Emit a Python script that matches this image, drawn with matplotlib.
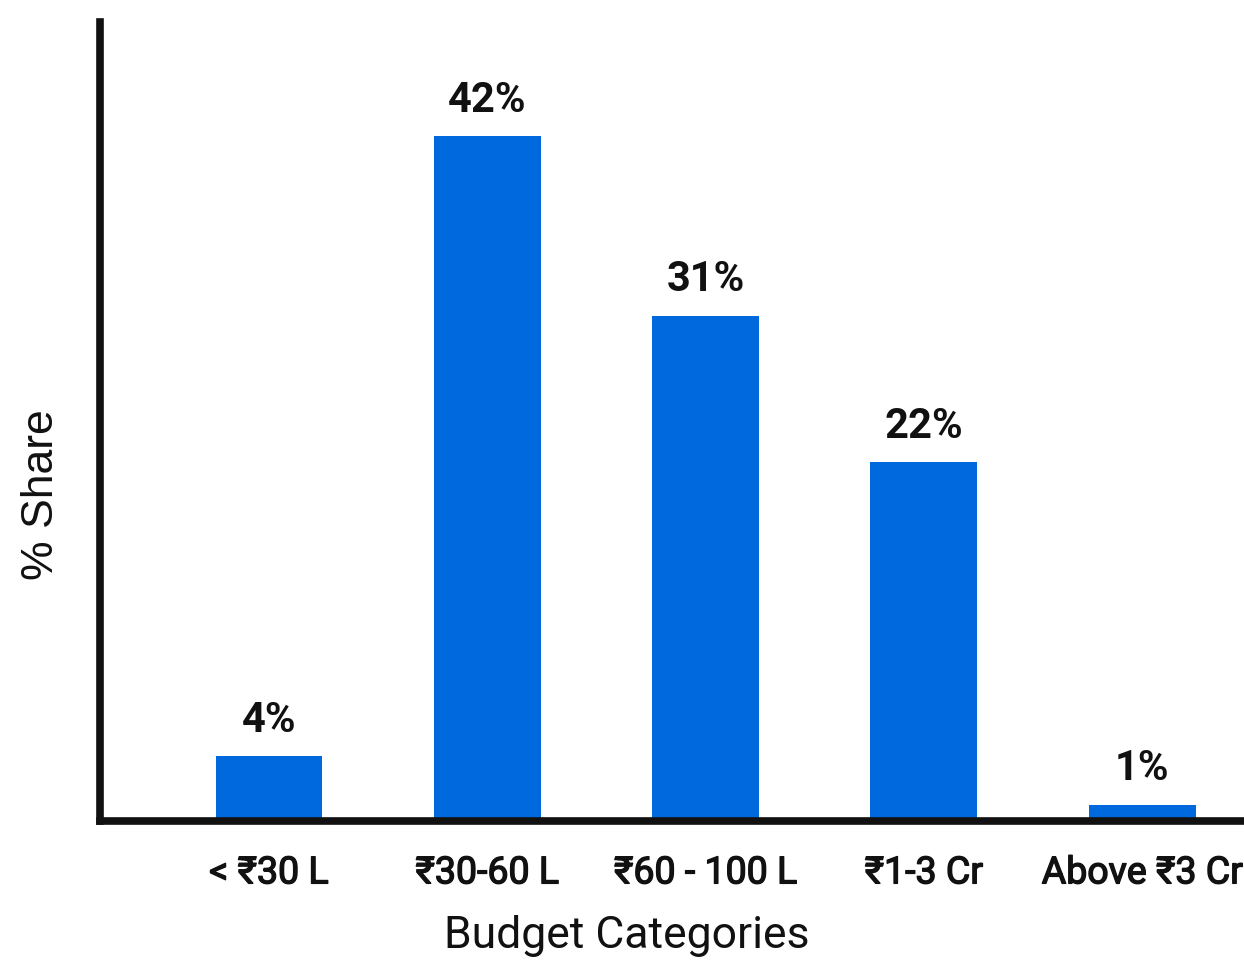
import matplotlib
matplotlib.use("Agg")
import matplotlib.pyplot as plt
import matplotlib.patheffects as pe
import numpy as np

categories = ["< ₹30 L", "₹30-60 L", "₹60 - 100 L", "₹1-3 Cr", "Above ₹3 Cr"]
shares = [4, 42, 31, 22, 1]
share_labels = ["4%", "42%", "31%", "22%", "1%"]

BAR_COLOR = "#0069de"
INK = "#111111"
FONTS = ["Roboto", "DejaVu Sans"]

fig = plt.figure(figsize=(12.44, 9.69), dpi=100)
ax = fig.add_axes([0.0804, 0.1527, 0.9196, 0.8246])

x = np.arange(len(categories))
bars = ax.bar(x, shares, width=0.49, color=BAR_COLOR, zorder=1)

for rect, lab in zip(bars, share_labels):
    ax.annotate(lab, (rect.get_x() + rect.get_width() / 2, rect.get_height()),
                xytext=(0, 11), textcoords="offset points",
                ha="center", va="bottom", fontsize=30, fontweight="bold",
                color=INK, family=FONTS)

ax.set_xlim(-0.774, 4.466)
ax.set_ylim(0, 49)

ax.set_xticks(x)
ax.set_xticklabels(categories, fontsize=27, color=INK, family=FONTS)
# thicken the regular weight a little to get a medium look
for t in ax.get_xticklabels():
    t.set_path_effects([pe.withStroke(linewidth=1.0, foreground=INK)])
ax.tick_params(axis="x", length=0, pad=24)
ax.set_yticks([])

ax.set_xlabel("Budget Categories", fontsize=32, color=INK, family=FONTS)
ax.xaxis.set_label_coords(0.4607, -0.118)
ax.set_ylabel("% Share", fontsize=32, color=INK,
              family=["Liberation Sans", "DejaVu Sans"])
ax.yaxis.set_label_coords(-0.033, 0.408)

for side in ("top", "right"):
    ax.spines[side].set_visible(False)
for side in ("left", "bottom"):
    ax.spines[side].set_linewidth(5.5)
    ax.spines[side].set_color(INK)
    ax.spines[side].set_zorder(3)

fig.savefig("out.png", dpi=100, facecolor="white")
